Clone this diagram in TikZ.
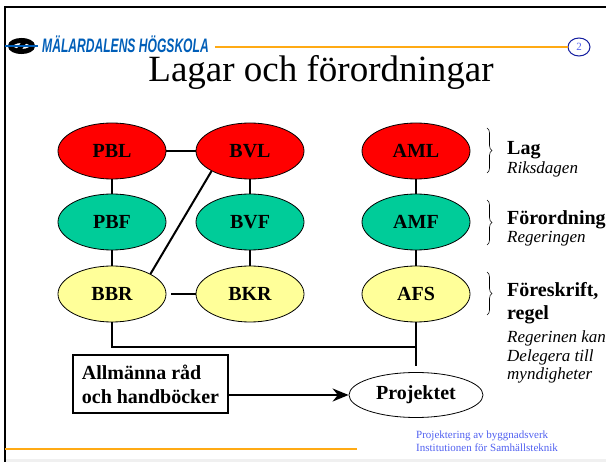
\documentclass[tikz,border=0pt]{standalone}
\usepackage{fontspec}
\usepackage{graphicx}
\setmainfont{Liberation Serif}
\setsansfont{Liberation Sans}
\usetikzlibrary{shapes.geometric,arrows.meta,decorations.pathreplacing}
\definecolor{lagred}{RGB}{255,0,0}
\definecolor{fgreen}{RGB}{0,204,153}
\definecolor{fyellow}{RGB}{255,255,153}
\definecolor{mdhblue}{RGB}{0,94,184}
\definecolor{linje}{RGB}{255,170,20}
\definecolor{fotblue}{RGB}{80,96,240}
\definecolor{nrblue}{RGB}{20,30,160}
\begin{document}
\begin{tikzpicture}[>=Stealth,x=1pt,y=-1pt,
		lagnod/.style={ellipse,draw,line width=0.8pt,minimum width=108pt,minimum height=56pt,inner sep=0pt,font=\fontsize{20}{24}\selectfont\bfseries},
		lag/.style={lagnod,fill=lagred},
		forord/.style={lagnod,fill=fgreen},
		foreskr/.style={lagnod,fill=fyellow},
		rubrik/.style={anchor=base west,inner sep=0pt,font=\fontsize{20}{24}\selectfont\bfseries},
		instans/.style={anchor=base west,inner sep=0pt,font=\fontsize{17}{19}\selectfont\itshape},
		fottext/.style={anchor=base west,inner sep=0pt,text=fotblue,font=\fontsize{11}{13}\selectfont},
		band/.style={line width=2pt},
		klammer/.style={decorate,decoration={brace,amplitude=5pt},line width=0.6pt}]
	\useasboundingbox (0,0) rectangle (606,462);
	% ram och sidhuvud
	\fill[gray!12] (6,459) rectangle (606,462);
	\draw[line width=2.5pt] (5,462) -- (5,7) -- (606,7);
	\draw[line width=5pt] (21.5,46) ellipse [x radius=11,y radius=5.5];
	\draw[line width=4.5pt] (26,39.5) -- (17,52.5);
	\draw[mdhblue,line width=1.2pt] (5,46) -- (38,46);
	\node[anchor=base west,inner sep=0pt,text=mdhblue,font=\sffamily\bfseries\itshape\fontsize{19.5}{20}\selectfont] (mdh) at (42,53) {\scalebox{0.62}[1]{MÄLARDALENS HÖGSKOLA}};
	\node[ellipse,draw=nrblue,line width=1pt,minimum width=22pt,minimum height=18pt,inner sep=0pt,text=fotblue,font=\fontsize{11}{12}\selectfont] (sidnr) at (579,47) {2};
	\draw[linje,line width=1.2pt,shorten <=6pt] (mdh.east |- sidnr.west) -- (sidnr.west);
	\node[anchor=base,font=\fontsize{37}{40}\selectfont] (titel) at (321,82) {Lagar och förordningar};
	% lagar, förordningar, föreskrifter
	\node[lag] (PBL) at (112,151) {PBL};
	\node[lag] (BVL) at (250,151) {BVL};
	\node[lag] (AML) at (416,151) {AML};
	\node[forord] (PBF) at (112,222) {PBF};
	\node[forord] (BVF) at (250,222) {BVF};
	\node[forord] (AMF) at (416,222) {AMF};
	\node[foreskr] (BBR) at (112,294) {BBR};
	\node[foreskr] (BKR) at (250,294) {BKR};
	\node[foreskr] (AFS) at (416,294) {AFS};
	\node[ellipse,draw,line width=0.8pt,minimum width=134pt,minimum height=45pt,inner sep=0pt,font=\fontsize{20}{24}\selectfont\bfseries] (Projektet) at (416,395) {Projektet};
	\node[draw,line width=2.5pt,minimum width=155pt,minimum height=58pt,align=left,font=\fontsize{20}{24}\selectfont\bfseries] (rad) at (150.5,384) {Allmänna råd\\och handböcker};
	\draw[band] (PBL) -- (BVL) (PBL) -- (PBF) (PBF) -- (BBR) (BVL) -- (BVF) (BVF) -- (BKR) (AML) -- (AMF) (AMF) -- (AFS);
	\draw[band] (BVL.south west) -- (BBR.north east);
	\draw[band,shorten <=5pt] (BBR) -- (BKR);
	\coordinate (knut) at (AFS |- 0,347);
	\draw[band] (BBR) |- (knut);
	\draw[band,shorten >=6pt] (AFS) -- (Projektet);
	\draw[band,-{Stealth[length=16pt,width=13pt]}] (rad.east |- Projektet) -- (Projektet);
	% nivåer
	\draw[klammer] (487,128) -- (487,173);
	\draw[klammer] (487,200) -- (487,245);
	\draw[klammer] (487,272) -- (487,315);
	\node[rubrik] (lagtxt) at (507,155) {Lag};
	\node[instans] (riksdag) at (507,174) {Riksdagen};
	\node[rubrik] (fordtxt) at (507,225) {Förordning};
	\node[instans] (regering) at (507,243) {Regeringen};
	\node[rubrik] (fsktxt) at (507,297) {Föreskrift,};
	\node[rubrik] (regel) at (507,320) {regel};
	\node[instans] (deleg1) at (507,343) {Regerinen kan};
	\node[instans] (deleg2) at (507,362) {Delegera till};
	\node[instans] (deleg3) at (507,380) {myndigheter};
	% sidfot
	\draw[linje,line width=1.2pt] (5,449) -- (357,449);
	\node[fottext] (fot1) at (416,439) {Projektering av byggnadsverk};
	\node[fottext] (fot2) at (416,452) {Institutionen för Samhällsteknik};
\end{tikzpicture}
\end{document}
